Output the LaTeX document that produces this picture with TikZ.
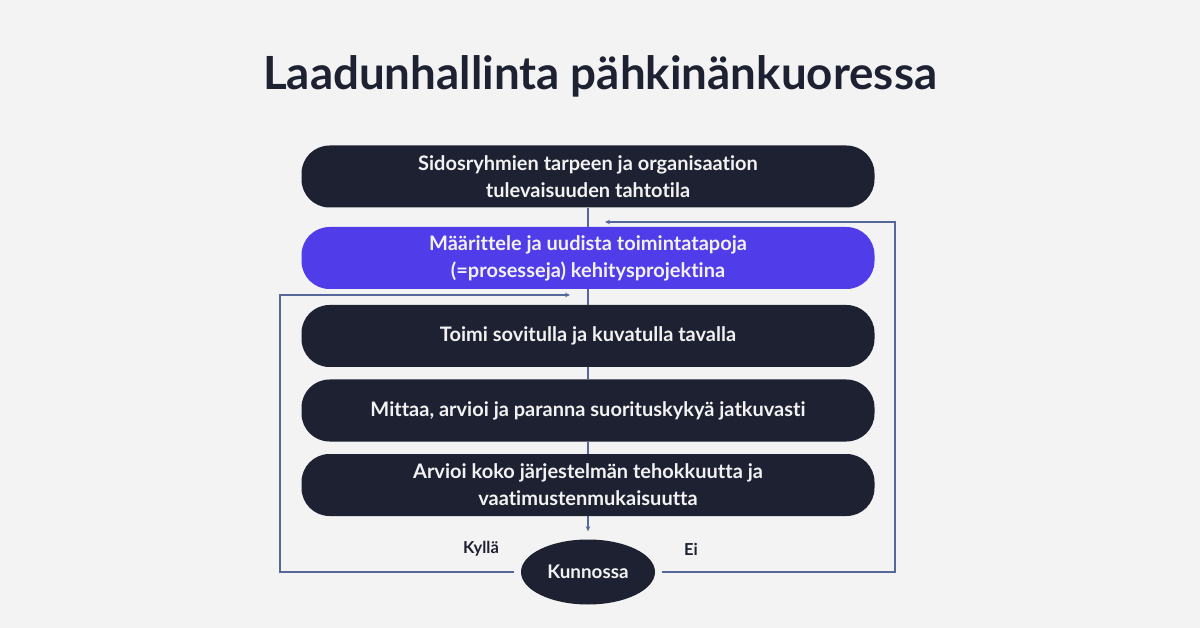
\documentclass[tikz,border=0pt]{standalone}
\usepackage{fontspec}
\setmainfont{Lato}[RawFeature=-liga]
\usetikzlibrary{positioning,shapes.geometric,arrows.meta}
\definecolor{pagebg}{HTML}{F3F3F3}
\definecolor{inkdark}{HTML}{1E2132}
\definecolor{violet}{HTML}{503CE8}
\definecolor{linkline}{HTML}{56689A}
\definecolor{boxtext}{HTML}{F2F2F2}

\tikzset{
  stage/.style={rounded corners=28pt, fill=inkdark, text=boxtext, minimum width=573pt,
    minimum height=62pt, inner sep=0pt, align=center,
    font=\bfseries\fontsize{20}{27}\selectfont},
  decision/.style={ellipse, fill=inkdark, text=boxtext, minimum width=134pt,
    minimum height=65pt, inner sep=0pt, font=\bfseries\fontsize{18.8}{20}\selectfont},
  answer/.style={text=inkdark, font=\bfseries\fontsize{16.5}{19}\selectfont},
  link/.style={draw=linkline, line width=1.3pt},
  tip/.style={-{Stealth[length=5pt,width=4.5pt]}},
}

\begin{document}
\begin{tikzpicture}[x=1pt,y=-1pt]
  \useasboundingbox[fill=pagebg] (0,0) rectangle (1200,628);

  % title
  \node[text=inkdark, font=\bfseries\fontsize{45.7}{50}\selectfont] (title) at (600,76)
    {Laadunhallinta pähkinänkuoressa};

  % steps
  \node[stage] (vision) at (588,176.5)
    {Sidosryhmien tarpeen ja organisaation\\tulevaisuuden tahtotila};
  \node[stage, fill=violet] (define) at (588,258)
    {Määrittele ja uudista toimintatapoja\\(=prosesseja) kehitysprojektina};
  \node[stage] (act) at (588,336) {Toimi sovitulla ja kuvatulla tavalla};
  \node[stage] (measure) at (588,410.5)
    {Mittaa, arvioi ja paranna suorituskykyä jatkuvasti};
  \node[stage] (review) at (588,485)
    {Arvioi koko järjestelmän tehokkuutta ja\\vaatimustenmukaisuutta};
  \node[decision] (ok) at (588,572) {Kunnossa};

  \node[answer] (yes) at (481,549) {Kyllä};
  \node[answer] (no) at (691,549) {Ei};

  % spine
  \draw[link] (vision) -- (define);
  \draw[link] (define) -- (act);
  \draw[link] (act) -- (measure);
  \draw[link] (measure) -- (review);
  \draw[link, tip, shorten >=8pt] (review) -- (ok);

  % loops back
  \coordinate (yesend) at (570,295);
  \coordinate (noend) at (605,222);
  \draw[link, tip, shorten <=7pt] (ok.west) -| (280,295) -- (yesend);
  \draw[link, tip, shorten <=7pt] (ok.east) -| (895,222) -- (noend);
\end{tikzpicture}
\end{document}
